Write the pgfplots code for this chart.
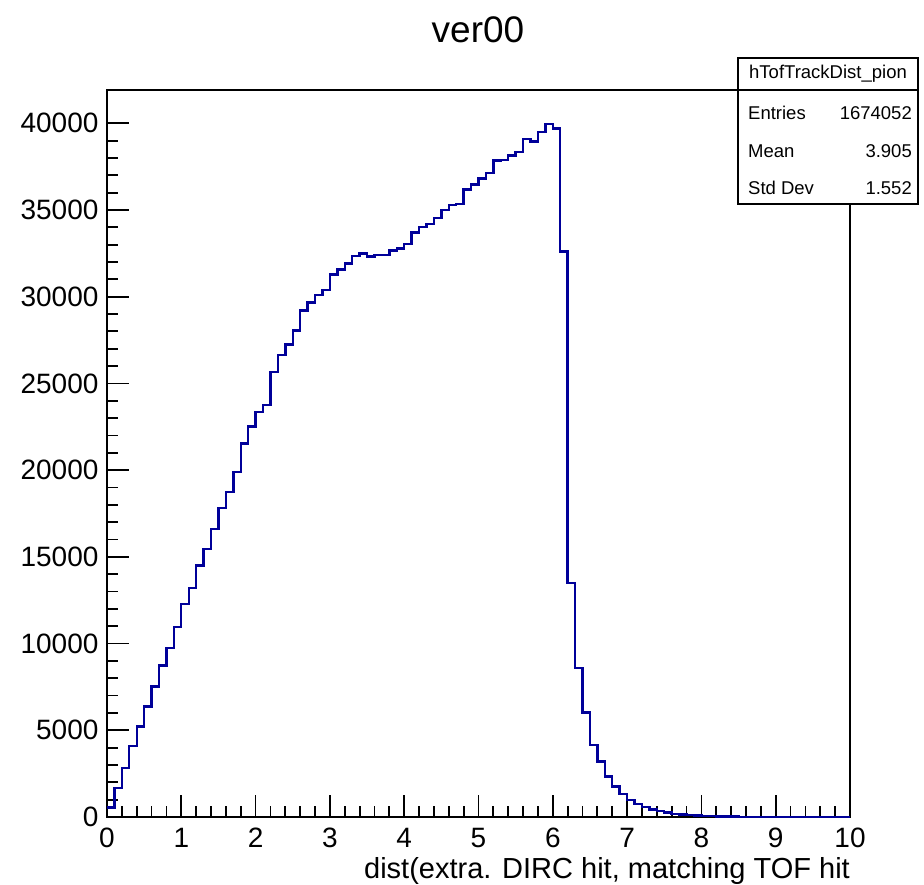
\documentclass[border=0pt]{standalone}
\usepackage{fontspec}
\setmainfont{Liberation Sans}
\usepackage{pgfplots}
\pgfplotsset{compat=1.18}
\definecolor{rootblue}{RGB}{0,0,153}
\begin{document}
\begin{tikzpicture}
\useasboundingbox (-107pt,-68pt) rectangle (817pt,817pt);
\begin{axis}[
  scale only axis, width=743pt, height=727pt,
  xmin=0, xmax=10, ymin=0, ymax=41920,
  axis line style={line width=2pt},
  every tick/.style={line width=1.8pt, black},
  tick align=inside, tick pos=left,
  major tick length=22pt, minor tick length=11pt,
  xtick={0,1,...,10}, ytick={0,5000,...,40000},
  minor x tick num=4, minor y tick num=4,
  scaled y ticks=false,
  /pgf/number format/1000 sep={},
  /pgf/number format/assume math mode=true,
  ticklabel style={font=\fontsize{28}{34}\selectfont},
  xticklabel style={anchor=base, inner sep=0pt, yshift=-31pt},
  yticklabel style={anchor=east, xshift=-5pt},
  xlabel={dist(extra. DIRC hit, matching TOF hit},
  xlabel style={font=\fontsize{29}{35}\selectfont, inner sep=0pt, at={(rel axis cs:1,0)}, anchor=base east, yshift=-61.5pt},
  clip=false,
]
\addplot[const plot, rootblue, line width=2.4pt] coordinates {
(0,550) (0.1,1670) (0.2,2830) (0.3,4100) (0.4,5210) (0.5,6370) (0.6,7520) (0.7,8730) (0.8,9730) (0.9,10950)
(1.0,12280) (1.1,13200) (1.2,14500) (1.3,15470) (1.4,16600) (1.5,17820) (1.6,18740) (1.7,19910) (1.8,21530) (1.9,22510)
(2.0,23340) (2.1,23740) (2.2,25650) (2.3,26630) (2.4,27250) (2.5,28060) (2.6,29200) (2.7,29670) (2.8,30090) (2.9,30400)
(3.0,31270) (3.1,31560) (3.2,31920) (3.3,32360) (3.4,32500) (3.5,32320) (3.6,32420) (3.7,32420) (3.8,32670) (3.9,32780)
(4.0,33030) (4.1,33700) (4.2,34020) (4.3,34210) (4.4,34530) (4.5,35000) (4.6,35290) (4.7,35360) (4.8,36190) (4.9,36460)
(5.0,36810) (5.1,37150) (5.2,37860) (5.3,37880) (5.4,38150) (5.5,38330) (5.6,39080) (5.7,38940) (5.8,39500) (5.9,39960)
(6.0,39710) (6.1,32600) (6.2,13500) (6.3,8600) (6.4,6020) (6.5,4160) (6.6,3190) (6.7,2330) (6.8,1750) (6.9,1310)
(7.0,980) (7.1,750) (7.2,577) (7.3,440) (7.4,330) (7.5,250) (7.6,175) (7.7,135) (7.8,100) (7.9,75)
(8.0,55) (8.1,42) (8.2,32) (8.3,24) (8.4,18) (8.5,14) (8.6,10) (8.7,8) (8.8,6) (8.9,4)
(9.0,3) (9.1,2) (9.2,2) (9.3,1) (9.4,1) (9.5,1) (9.6,0) (9.7,0) (9.8,0) (9.9,0) (10,0)
};
\end{axis}
\node[font=\fontsize{37}{44}\selectfont] at (371pt,787pt) {ver00};
\draw[line width=1.6pt, fill=white] (631pt,613pt) rectangle (811pt,759pt);
\draw[line width=1.6pt] (631pt,727pt) -- (811pt,727pt);
\begin{scope}[every node/.style={font=\fontsize{18.5}{22}\selectfont, inner sep=0pt}]
\node at (721pt,743pt) {hTofTrackDist\_pion};
\node[anchor=west] at (641pt,704pt) {Entries};
\node[anchor=east] at (805pt,704pt) {1674052};
\node[anchor=west] at (641pt,666pt) {Mean};
\node[anchor=east] at (805pt,666pt) {3.905};
\node[anchor=west] at (641pt,629pt) {Std Dev};
\node[anchor=east] at (805pt,629pt) {1.552};
\end{scope}
\end{tikzpicture}
\end{document}
